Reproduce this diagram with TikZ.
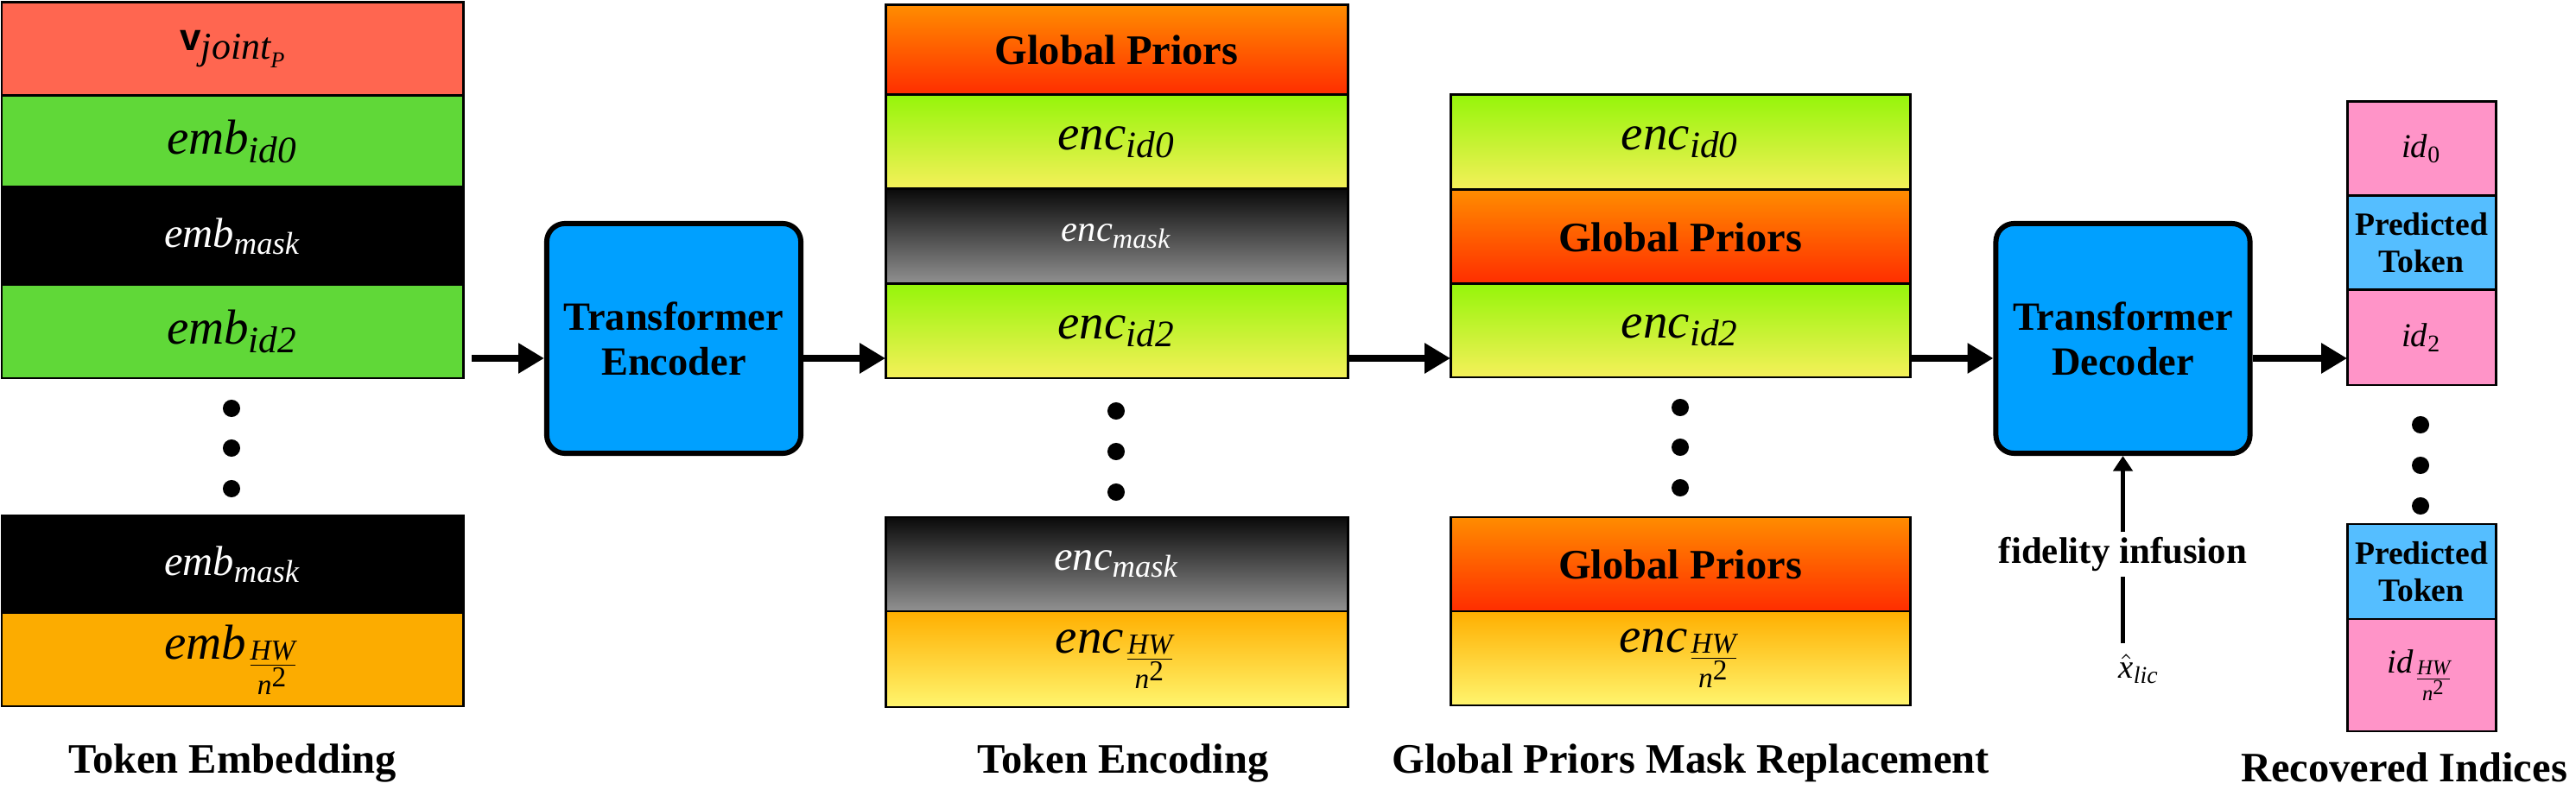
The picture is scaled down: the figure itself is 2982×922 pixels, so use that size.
\documentclass[tikz,border=0pt]{standalone}
\usepackage{amsmath}
\usepackage{fontspec}
\setmainfont{Liberation Serif}
\setsansfont{Liberation Sans}
\usetikzlibrary{arrows.meta,calc}
\DeclareMathSizes{16.2}{16.2}{12.3}{9.5}
\DeclareMathSizes{13.8}{13.8}{10.4}{8}
\DeclareMathSizes{12.1}{12.1}{9.2}{7}
\DeclareMathSizes{11}{11}{7.9}{7}
\definecolor{cred}{RGB}{255,102,80}
\definecolor{cgreen}{RGB}{96,216,56}
\definecolor{corange}{RGB}{252,172,0}
\definecolor{gptop}{RGB}{255,140,0}
\definecolor{gpbot}{RGB}{255,45,0}
\definecolor{idtop}{RGB}{150,245,10}
\definecolor{idbot}{RGB}{245,240,90}
\definecolor{mktop}{RGB}{10,10,10}
\definecolor{mkbot}{RGB}{145,145,145}
\definecolor{hwtop}{RGB}{255,175,0}
\definecolor{hwbot}{RGB}{255,245,110}
\definecolor{tfblue}{RGB}{0,160,255}
\definecolor{cpink}{RGB}{255,148,200}
\definecolor{cpred}{RGB}{85,190,255}
\newcommand\cell[7]{\node[cellbox,#6,minimum width={(#4-#2)*0.01cm},minimum height={(#5-#3)*0.01cm}] (#1) at ({(#2+#4)/2},{(#3+#5)/2}) {#7};}
\newcommand\hwfrac{\frac{\textit{HW}}{\textit{n}^{\textup{2}}}}
\begin{document}
\begin{tikzpicture}[x=0.01cm,y=-0.01cm,
  cellbox/.style={draw=black,line width=0.85pt,inner sep=0pt,outer sep=0pt,align=center},
  big/.style={font=\fontsize{16.2}{19}\selectfont},
  mask/.style={font=\fontsize{13.8}{16}\selectfont},
  gp/.style={top color=gptop,bottom color=gpbot,font=\fontsize{13.8}{16}\selectfont\bfseries},
  encid/.style={top color=idtop,bottom color=idbot,big},
  encmask/.style={top color=mktop,bottom color=mkbot,text=white},
  enchw/.style={top color=hwtop,bottom color=hwbot,big},
  pinkcell/.style={fill=cpink,font=\fontsize{11}{13}\selectfont},
  predcell/.style={fill=cpred,font=\fontsize{10.7}{12.3}\selectfont\bfseries},
  tfbox/.style={draw=black,line width=1.7pt,rounded corners=6pt,fill=tfblue,inner sep=0pt,align=center,
    minimum width=2.94cm,minimum height=2.66cm,font=\fontsize{13.2}{14.8}\selectfont\bfseries},
  arr/.style={line width=2.4pt,-{Triangle[length=8.5pt,width=9.5pt]}},
  thinline/.style={line width=1.3pt},
  thinarr/.style={line width=1.3pt,-{Triangle[length=5pt,width=6.3pt]}},
  dot/.style={circle,fill=black,inner sep=0pt,minimum size=5.7pt},
  title/.style={font=\fontsize{13.8}{16}\selectfont\bfseries}]
\useasboundingbox (0,0) rectangle (2982,922);

% Column 1: token embedding
\cell{e0}{2}{3}{536}{111}{fill=cred}{{\fontsize{12.5}{14}\selectfont\sffamily\bfseries v}\raisebox{-2.8pt}{\fontsize{12.5}{14}\selectfont\itshape joint\raisebox{-2.8pt}{\fontsize{7.5}{9}\selectfont P}}}
\cell{e1}{2}{111}{536}{217}{fill=cgreen,big}{$\textit{emb}_{\textit{id0}}$}
\cell{e2}{2}{217}{536}{330}{fill=black,text=white,mask}{$\textit{emb}_{\textit{mask}}$}
\cell{e3}{2}{330}{536}{438}{fill=cgreen,big}{$\textit{emb}_{\textit{id2}}$}
\node[dot] (ed1) at (268,473) {};
\node[dot] (ed2) at (268,519) {};
\node[dot] (ed3) at (268,566) {};
\cell{e4}{2}{597}{536}{710}{fill=black,text=white,mask}{$\textit{emb}_{\textit{mask}}$}
\cell{e5}{2}{710}{536}{818}{fill=corange,big}{$\textit{emb}_{\hwfrac}$}
\node[title] (t1) at (269,884) {Token Embedding};

% Transformer encoder
\node[tfbox] (enc) at (780,392) {Transformer\\Encoder};

% Column 2: token encoding
\cell{c0}{1025}{6}{1560}{110}{gp}{Global Priors}
\cell{c1}{1025}{110}{1560}{219}{encid}{$\textit{enc}_{\textit{id0}}$}
\cell{c2}{1025}{219}{1560}{329}{encmask,font=\fontsize{12.1}{14}\selectfont}{$\textit{enc}_{\textit{mask}}$}
\cell{c3}{1025}{329}{1560}{438}{encid}{$\textit{enc}_{\textit{id2}}$}
\node[dot] (cd1) at (1292,476) {};
\node[dot] (cd2) at (1292,523) {};
\node[dot] (cd3) at (1292,570) {};
\cell{c4}{1025}{599}{1560}{708}{encmask,mask}{$\textit{enc}_{\textit{mask}}$}
\cell{c5}{1025}{708}{1560}{819}{enchw}{$\textit{enc}_{\hwfrac}$}
\node[title] (t2) at (1300,884) {Token Encoding};

% Column 3: global priors mask replacement
\cell{g1}{1679}{110}{2211}{220}{encid}{$\textit{enc}_{\textit{id0}}$}
\cell{g2}{1679}{220}{2211}{329}{gp}{Global Priors}
\cell{g3}{1679}{329}{2211}{437}{encid}{$\textit{enc}_{\textit{id2}}$}
\node[dot] (gd1) at (1945,472) {};
\node[dot] (gd2) at (1945,518) {};
\node[dot] (gd3) at (1945,565) {};
\cell{g4}{1679}{599}{2211}{708}{gp}{Global Priors}
\cell{g5}{1679}{708}{2211}{817}{enchw}{$\textit{enc}_{\hwfrac}$}
\node[title] (t3) at (1957,884) {Global Priors Mask Replacement};

% Transformer decoder
\node[tfbox] (dec) at (2457.5,392) {Transformer\\Decoder};
\node[font=\fontsize{12.2}{14}\selectfont\bfseries,fill=white,inner sep=1.5pt] (fid) at (2457.5,642) {fidelity infusion};
\node[font=\fontsize{11}{13}\selectfont] (xhat) at (2476,775) {$\hat{\textit{x}}_{\textit{lic}}$};

% Column 4: recovered indices
\cell{r1}{2717}{118}{2889}{227}{pinkcell}{$\textit{id}_{\textup{0}}$}
\cell{r2}{2717}{227}{2889}{336}{predcell}{Predicted\\Token}
\cell{r3}{2717}{336}{2889}{446}{pinkcell}{$\textit{id}_{\textup{2}}$}
\node[dot] (rd1) at (2802,492) {};
\node[dot] (rd2) at (2802,539) {};
\node[dot] (rd3) at (2802,586) {};
\cell{r4}{2717}{607}{2889}{717}{predcell}{Predicted\\Token}
\cell{r5}{2717}{717}{2889}{847}{pinkcell}{$\textit{id}_{\hwfrac}$}
\node[title] (t4) at (2783,889) {Recovered Indices};

% Connectors
\coordinate (a1s) at (546,415);
\draw[arr] (a1s) -- (a1s -| enc.west);
\draw[arr] (a1s -| enc.east) -- (a1s -| c3.west);
\draw[arr] (a1s -| c3.east) -- (a1s -| g3.west);
\draw[arr] (a1s -| g3.east) -- (a1s -| dec.west);
\draw[arr] (a1s -| dec.east) -- (a1s -| r3.west);
\draw[thinline] (xhat.north -| dec.south) -- (fid.south);
\draw[thinarr] (fid.north) -- (dec.south);
\end{tikzpicture}
\end{document}
